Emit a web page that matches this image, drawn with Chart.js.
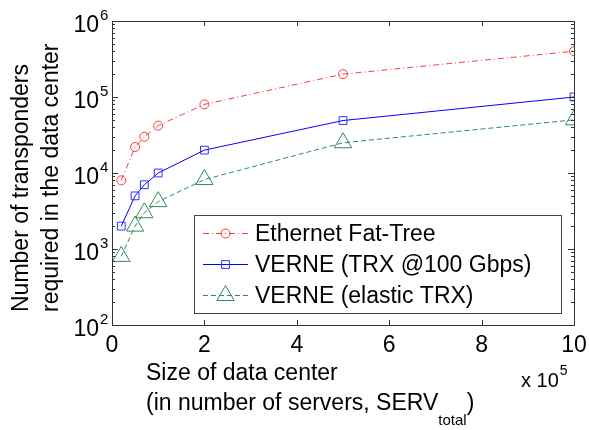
<!DOCTYPE html>
<html>
<head>
<meta charset="utf-8">
<script src="https://cdn.jsdelivr.net/npm/chart.js@4/dist/chart.umd.min.js"></script>
<style>
  body { margin: 0; background: #fff; }
  #wrap { width: 589px; height: 430px; }
</style>
</head>
<body>
<div id="wrap"><canvas id="salesChart" width="589" height="430"></canvas></div>
<script>
// data (x in units of 10^5 servers)
var servers = [0.2, 0.5, 0.7, 1, 2, 5, 10];
var ethernetFatTree = [8000, 22000, 30000, 42000, 80000, 200000, 400000];
var verneTrx100 = [2000, 5000, 7000, 10000, 20000, 49000, 100000];
var verneElastic = [800, 2000, 3000, 4200, 8200, 25000, 50000];
var xTicks = [0, 2, 4, 6, 8, 10];
var yDecades = [2, 3, 4, 5, 6];
var legendLabels = ['Ethernet Fat-Tree', 'VERNE (TRX @100 Gbps)', 'VERNE (elastic TRX)'];

var fontName = '"Liberation Sans", Arial, sans-serif';

function toPoints(vals) {
    var pts = [];
    for (var i in servers) {
        pts.push({ x: servers[i], y: vals[i] });
    }
    return pts;
}

var dataFirst = {
    label: legendLabels[0],
    data: toPoints(ethernetFatTree),
    borderColor: '#ff3a3a',
    borderWidth: 1,
    borderDash: [6, 3, 1, 3],
    backgroundColor: 'transparent',
    pointStyle: 'circle',
    pointRadius: 4.5,
    pointBorderColor: '#ff3a3a',
    pointBackgroundColor: 'transparent',
    pointBorderWidth: 1,
    tension: 0
};
var dataSecond = {
    label: legendLabels[1],
    data: toPoints(verneTrx100),
    borderColor: '#0000ff',
    borderWidth: 1,
    backgroundColor: 'transparent',
    pointStyle: 'rect',
    pointRadius: 5.5,
    pointBorderColor: '#3030ff',
    pointBackgroundColor: 'transparent',
    pointBorderWidth: 1,
    tension: 0
};
var dataThird = {
    label: legendLabels[2],
    data: toPoints(verneElastic),
    borderColor: '#2e8b57',
    borderWidth: 1,
    borderDash: [5, 3],
    backgroundColor: 'transparent',
    pointStyle: 'triangle',
    pointRadius: 10,
    pointBorderColor: '#2e8b57',
    pointBackgroundColor: 'transparent',
    pointBorderWidth: 1,
    tension: 0
};

// box, inward ticks, labels and legend drawn the matlab way
var matlabAxes = {
    id: 'matlabAxes',
    afterDraw: function(chart) {
        var ctx = chart.ctx;
        var a = chart.chartArea;
        var xs = chart.scales.x;
        var ys = chart.scales.y;
        ctx.save();
        ctx.strokeStyle = '#333';
        ctx.lineWidth = 1;
        ctx.strokeRect(a.left + 0.5, a.top + 0.5, a.right - a.left, a.bottom - a.top);

        ctx.beginPath();
        xTicks.forEach(function(t) {
            var px = Math.round(xs.getPixelForValue(t)) + 0.5;
            ctx.moveTo(px, a.bottom); ctx.lineTo(px, a.bottom - 5);
            ctx.moveTo(px, a.top); ctx.lineTo(px, a.top + 5);
        });
        yDecades.forEach(function(d) {
            for (var m = 1; m <= 9; m++) {
                if (d == 6 && m > 1) break;
                var py = Math.round(ys.getPixelForValue(m * Math.pow(10, d))) + 0.5;
                var len = (m == 1) ? 6 : 3;
                ctx.moveTo(a.left, py); ctx.lineTo(a.left + len, py);
                ctx.moveTo(a.right, py); ctx.lineTo(a.right - len, py);
            }
        });
        ctx.stroke();

        ctx.fillStyle = '#000';
        ctx.textBaseline = 'alphabetic';
        // x tick labels
        ctx.font = '23px ' + fontName;
        ctx.textAlign = 'center';
        xTicks.forEach(function(t) {
            ctx.fillText(String(t), xs.getPixelForValue(t), a.bottom + 27);
        });
        // y tick labels 10^n
        yDecades.forEach(function(d) {
            var py = ys.getPixelForValue(Math.pow(10, d));
            ctx.font = '23px ' + fontName;
            ctx.textAlign = 'right';
            ctx.fillText('10', 99, py + 11);
            ctx.font = '15px ' + fontName;
            ctx.textAlign = 'left';
            ctx.fillText(String(d), 100, py - 1);
        });
        // x exponent
        ctx.font = '20px ' + fontName;
        ctx.textAlign = 'left';
        ctx.fillText('x 10', 521, 387);
        var wx = ctx.measureText('x 10').width;
        ctx.font = '14px ' + fontName;
        ctx.fillText('5', 521 + wx + 1, 375);

        // x title
        ctx.font = '23px ' + fontName;
        ctx.fillText('Size of data center', 146, 380);
        var l2 = '(in number of servers, SERV';
        ctx.fillText(l2, 146, 410);
        var w2 = ctx.measureText(l2).width;
        ctx.font = '15px ' + fontName;
        ctx.fillText('total', 146 + w2, 425);
        var w3 = ctx.measureText('total').width;
        ctx.font = '23px ' + fontName;
        ctx.fillText(')', 146 + w2 + w3, 410);

        // y title
        ctx.save();
        ctx.translate(28, 312);
        ctx.rotate(-Math.PI / 2);
        ctx.textAlign = 'left';
        ctx.fillText('Number of transponders', 0, 0);
        ctx.fillText('required in the data center', 0, 30);
        ctx.restore();

        // legend
        var lx = 194, ly = 215, lw = 367, lh = 98;
        ctx.fillStyle = '#fff';
        ctx.fillRect(lx, ly, lw, lh);
        ctx.strokeStyle = '#444';
        ctx.strokeRect(lx + 0.5, ly + 0.5, lw, lh);
        var rows = [233, 264, 295];
        chart.data.datasets.forEach(function(ds, i) {
            var ry = rows[i] + 0.5;
            ctx.save();
            ctx.strokeStyle = ds.borderColor;
            ctx.lineWidth = 1;
            ctx.setLineDash(ds.borderDash || []);
            ctx.beginPath();
            ctx.moveTo(203, ry); ctx.lineTo(248, ry);
            ctx.stroke();
            ctx.setLineDash([]);
            ctx.strokeStyle = ds.pointBorderColor;
            ctx.fillStyle = 'transparent';
            Chart.helpers.drawPoint(ctx, {
                pointStyle: ds.pointStyle,
                radius: ds.pointRadius,
                borderWidth: 1,
                rotation: 0
            }, 225.5, ry);
            ctx.restore();
            ctx.fillStyle = '#000';
            ctx.font = '23px ' + fontName;
            ctx.textAlign = 'left';
            ctx.fillText(ds.label, 255, rows[i] + 8);
        });
        ctx.restore();
    }
};

var speedCanvas = document.getElementById('salesChart');
var lineChart = new Chart(speedCanvas, {
    type: 'line',
    data: { datasets: [dataFirst, dataSecond, dataThird] },
    options: {
        responsive: false,
        animation: false,
        devicePixelRatio: 1,
        layout: { padding: { left: 112, right: 15, top: 21, bottom: 105 } },
        plugins: { legend: { display: false }, tooltip: { enabled: false } },
        scales: {
            x: {
                type: 'linear', min: 0, max: 10,
                grid: { display: false }, border: { display: false },
                ticks: { display: false },
                afterFit: function(s) { s.height = 0; }
            },
            y: {
                type: 'logarithmic', min: 100, max: 1000000,
                grid: { display: false }, border: { display: false },
                ticks: { display: false },
                afterFit: function(s) { s.width = 0; }
            }
        }
    },
    plugins: [matlabAxes]
});
</script>
</body>
</html>
